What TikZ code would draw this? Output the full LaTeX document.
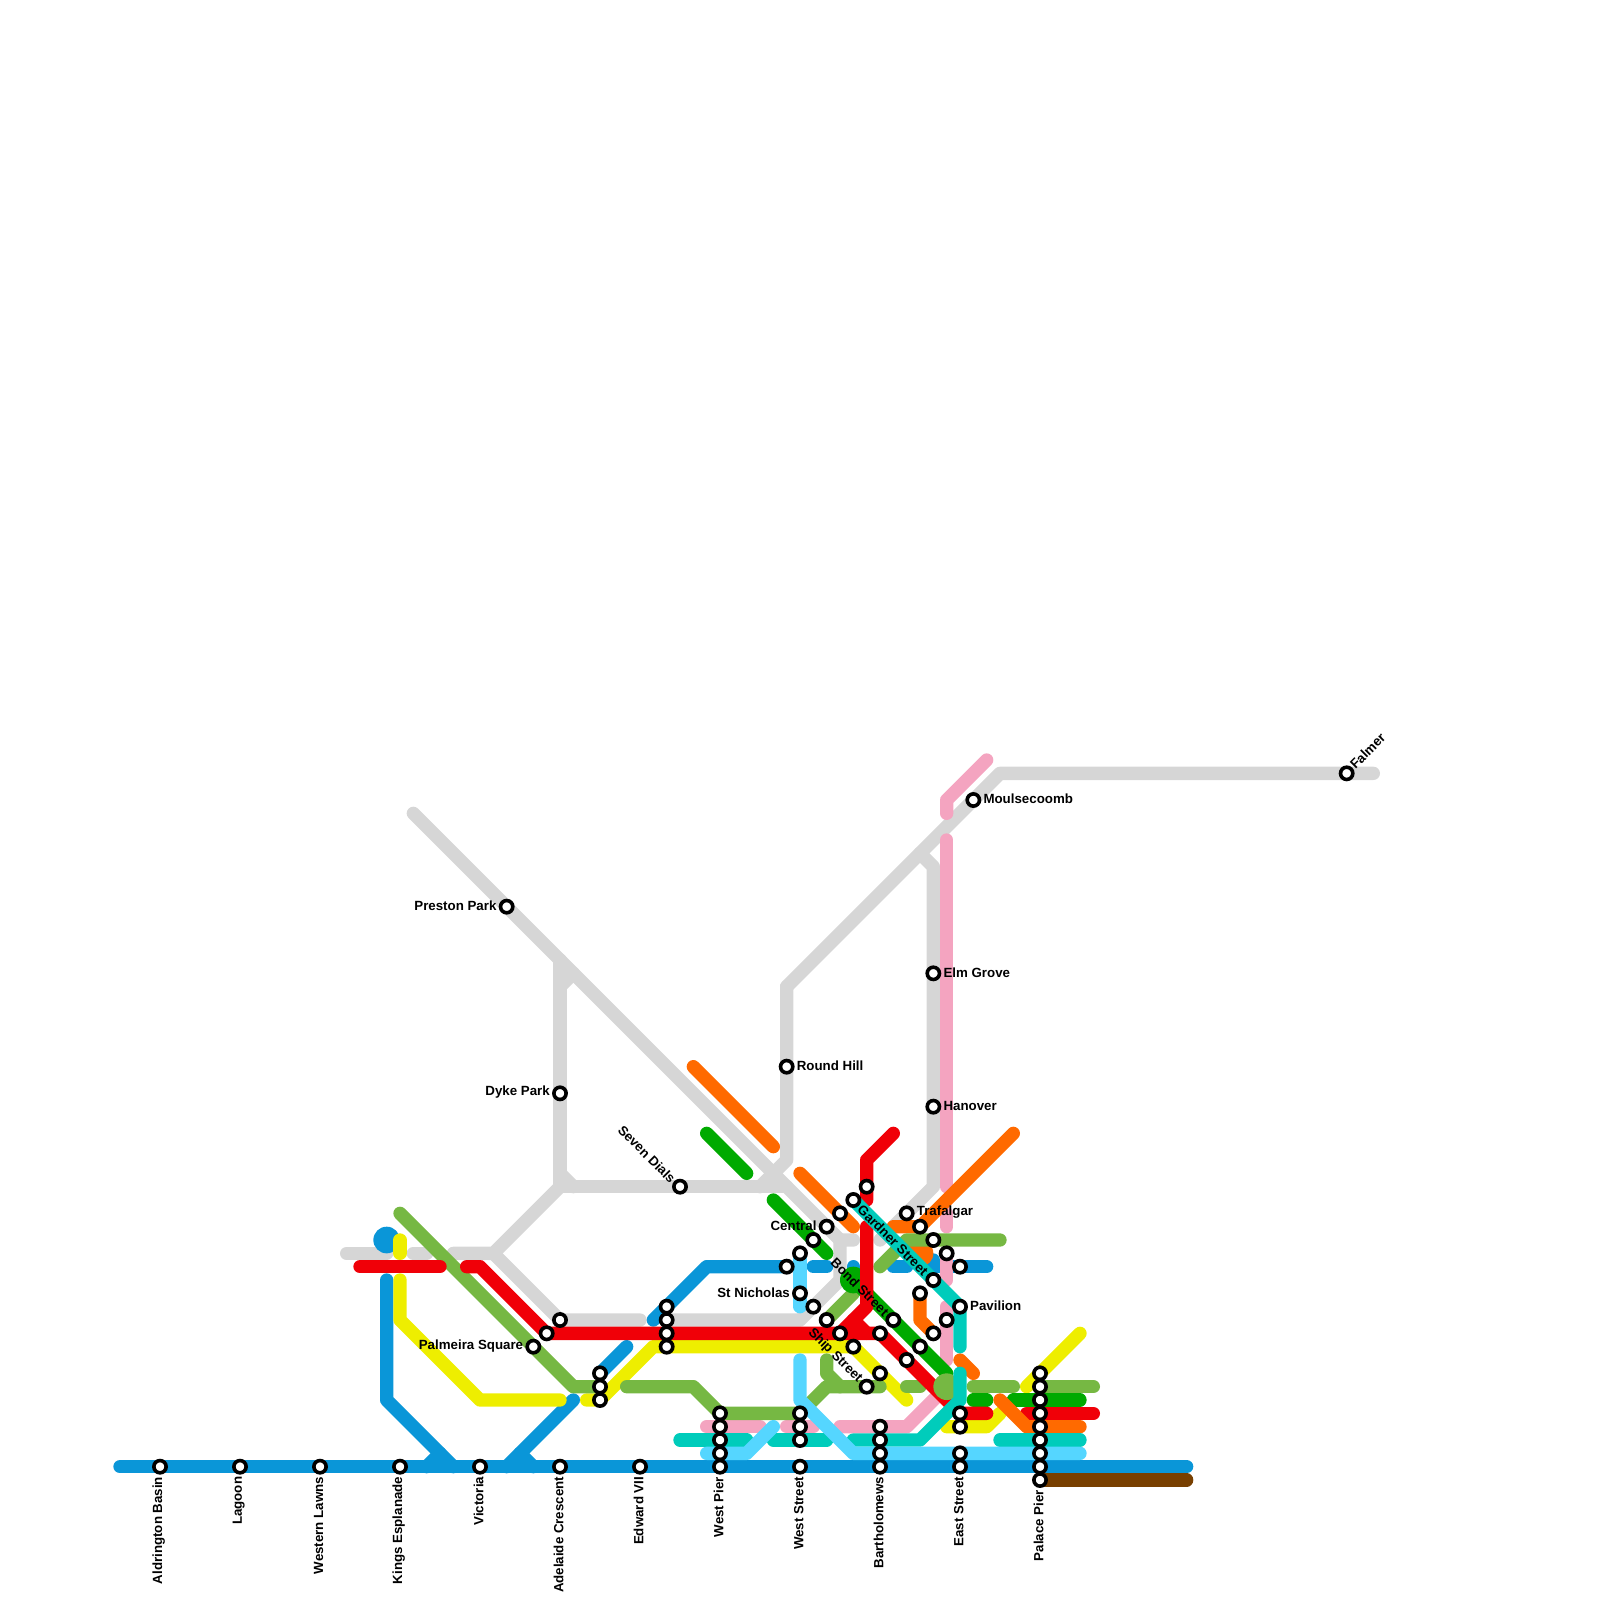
\documentclass[tikz,border=0pt]{standalone}
\usepackage{fontspec}
\setmainfont{Liberation Sans}
\definecolor{mblue}{RGB}{10,150,216}
\definecolor{mlight}{RGB}{85,214,255}
\definecolor{mteal}{RGB}{0,204,187}
\definecolor{mpink}{RGB}{244,164,192}
\definecolor{morange}{RGB}{255,106,0}
\definecolor{mdark}{RGB}{0,170,0}
\definecolor{mgreen}{RGB}{118,184,67}
\definecolor{mred}{RGB}{240,0,8}
\definecolor{myellow}{RGB}{238,238,0}
\definecolor{mgray}{RGB}{214,214,214}
\definecolor{mbrown}{RGB}{120,63,0}
\tikzset{
  metro/.style={line width=0.5cm,line cap=round,line join=round,draw=#1},
  blob/.style={fill=#1,draw=none},
  stn/.style={circle,draw=black,fill=white,line width=0.135cm,minimum size=0.46cm,inner sep=0pt},
  lab/.style={inner sep=0pt,font=\bfseries\fontsize{14.2pt}{14.2pt}\selectfont,text=black},
}
\begin{document}
\begin{tikzpicture}[x=0.5cm,y=-0.5cm]
\useasboundingbox (0,0) rectangle (120,120);
% gray
\draw[metro=mgray] (31,61) -- (63,93);
\draw[metro=mgray] (42,72) -- (42,89) -- (59,89);
\draw[metro=mgray] (42,74) -- (43,73);
\draw[metro=mgray] (42,88) -- (43,89);
\draw[metro=mgray] (42,89) -- (37,94) -- (34,94);
\draw[metro=mgray] (37,94) -- (42,99) -- (48,99);
\draw[metro=mgray] (31,94) -- (32,94);
\draw[metro=mgray] (26,94) -- (29,94);
\draw[metro=mgray] (50,99) -- (60,99) -- (63,96) -- (63,93) -- (64,93);
\draw[metro=mgray] (59,74) -- (59,87) -- (57,89);
\draw[metro=mgray] (59,74) -- (75,58) -- (103,58);
\draw[metro=mgray] (69,64) -- (70,65) -- (70,89) -- (66,93);
% brown
\draw[metro=mbrown] (78,111) -- (89,111);
% blue
\draw[metro=mblue] (9,110) -- (89,110);
\draw[metro=mblue] (29,96) -- (29,105) -- (34,110);
\draw[metro=mblue] (33,109) -- (32,110);
\draw[metro=mblue] (38,110) -- (43,105);
\draw[metro=mblue] (39,109) -- (40,110);
\fill[blob=mblue] (29,93) circle (0.5cm);
\draw[metro=mblue] (45,103) -- (47,101);
\draw[metro=mblue] (49,99) -- (53,95) -- (59,95);
\draw[metro=mblue] (61,95) -- (62,95);
\draw[metro=mblue] (67,95) -- (68,95);
\draw[metro=mblue] (64,95) -- (64,96);
\draw[metro=mblue] (70,94.5) -- (70,95) -- (74,95);
\fill[blob=morange] (69,94) circle (0.5cm);
% pink
\draw[metro=mpink] (71,61) -- (71,60) -- (74,57);
\draw[metro=mpink] (71,63) -- (71,89);
\draw[metro=mpink] (71,91) -- (71,92);
\draw[metro=mpink] (71,94) -- (71,96);
\draw[metro=mpink] (71,98) -- (71,102);
\draw[metro=mpink] (63,107) -- (68,107) -- (71,104);
\draw[metro=mpink] (53,107) -- (57,107);
\draw[metro=mpink] (59,107) -- (61,107);
% yellow
\draw[metro=myellow] (30,93) -- (30,94);
\draw[metro=myellow] (30,96) -- (30,99) -- (36,105) -- (42,105);
\draw[metro=myellow] (44,105) -- (45,105) -- (49,101) -- (64,101) -- (68,105);
\draw[metro=myellow] (71,107) -- (74,107) -- (75,106);
\draw[metro=myellow] (77,104) -- (81,100);
% orange
\draw[metro=morange] (52,80) -- (58,86);
\draw[metro=morange] (60,88) -- (64,92);
\draw[metro=morange] (76,85) -- (69,92) -- (67,92);
\draw[metro=morange] (69,97) -- (69,99) -- (70,100);
\draw[metro=morange] (72,102) -- (73,103);
% light green
\draw[metro=mgreen] (30,91) -- (43,104) -- (45,104);
\draw[metro=mgreen] (47,104) -- (52,104) -- (54,106) -- (60,106) -- (62,104) -- (66,104);
\draw[metro=mgreen] (62,102) -- (62,103) -- (63,104);
\draw[metro=mgreen] (68,104) -- (69,104);
\draw[metro=mgreen] (73,104) -- (76,104);
\draw[metro=mgreen] (78,104) -- (82,104);
\draw[metro=mgreen] (62,99) -- (64,97);
\draw[metro=mgreen] (66,95) -- (68,93) -- (75,93);
% dark green
\draw[metro=mdark] (53,85) -- (56,88);
\draw[metro=mdark] (58,90) -- (62,94);
\fill[blob=mdark] (64,96) circle (0.5cm);
\draw[metro=mdark] (64,96) -- (71,103);
\draw[metro=mdark] (73,105) -- (74,105);
\draw[metro=mdark] (76,105) -- (81,105);
% red
\draw[metro=mred] (27,95) -- (33,95);
\draw[metro=mred] (35,95) -- (36,95) -- (41,100) -- (66,100) -- (71,105) -- (72,106) -- (74,106);
\draw[metro=mred] (65,92) -- (65,98) -- (63,100);
\draw[metro=mred] (64,99) -- (65,100);
\draw[metro=mred] (77,106) -- (82,106);
\draw[metro=mred] (67,85) -- (65,87) -- (65,90);
\draw[metro=morange] (75,105) -- (77,107) -- (81,107);
\fill[blob=mgreen] (71,104) circle (0.5cm);
% teal
\draw[metro=mteal] (51,108) -- (56,108);
\draw[metro=mteal] (58,108) -- (62,108);
\draw[metro=mteal] (64,108) -- (69,108) -- (72,105) -- (72,103);
\draw[metro=mteal] (75,108) -- (81,108);
\draw[metro=mteal] (64,90) -- (72,98) -- (72,101);
% light blue
\draw[metro=mlight] (53,109) -- (56,109) -- (58,107);
\draw[metro=mlight] (60,102) -- (60,105) -- (64,109) -- (81,109);
\draw[metro=mlight] (60,94) -- (60,98);
% stations
\foreach \x/\y in {12/110,18/110,24/110,30/110,36/110,42/110,48/110,
 54/106,54/107,54/108,54/109,54/110,60/106,60/107,60/108,60/110,
 66/107,66/108,66/109,66/110,72/106,72/107,72/109,72/110,
 78/103,78/104,78/105,78/106,78/107,78/108,78/109,78/110,78/111,
 51/89,65/89,64/90,63/91,62/92,61/93,60/94,59/95,60/97,61/98,62/99,63/100,64/101,
 65/104,66/103,66/100,67/99,68/102,69/101,70/100,71/99,72/98,69/97,70/96,72/95,71/94,70/93,69/92,68/91,
 70/83,70/73,59/80,73/60,101/58,38/68,42/82,40/101,41/100,42/99,45/103,45/104,45/105,
 50/98,50/99,50/100,50/101}
  \node[stn] (s\x-\y) at (\x,\y) {};
% labels
\foreach \n/\x/\t in {a/11.9/Aldrington Basin,b/17.9/Lagoon,c/23.9/Western Lawns,d/29.9/Kings Esplanade,e/35.9/Victoria,f/41.9/Adelaide Crescent,g/47.9/Edward VII,h/53.9/West Pier,i/59.9/West Street,j/65.9/Bartholomews,k/71.9/East Street}
  \node[lab,rotate=90,anchor=east] (l\n) at (\x,110.75) {\t};
\node[lab,rotate=90,anchor=east] (ll) at (77.9,111.75) {Palace Pier};
\node[lab,anchor=west] (r1) at (70.75,82.93) {Hanover};
\node[lab,anchor=west] (r2) at (70.75,72.93) {Elm Grove};
\node[lab,anchor=west] (r3) at (59.75,79.93) {Round Hill};
\node[lab,anchor=west] (r4) at (73.75,59.93) {Moulsecoomb};
\node[lab,anchor=west] (r5) at (68.75,90.93) {Trafalgar};
\node[lab,anchor=west] (r6) at (72.75,97.93) {Pavilion};
\node[lab,anchor=east] (q1) at (37.25,67.93) {Preston Park};
\node[lab,anchor=east] (q2) at (41.25,81.93) {Dyke Park};
\node[lab,anchor=east] (q3) at (39.25,100.93) {Palmeira Square};
\node[lab,anchor=east] (q4) at (61.25,91.93) {Central};
\node[lab,anchor=east] (q5) at (59.25,96.93) {St Nicholas};
\node[lab,rotate=45,anchor=west] (d1) at (101.4,57.5) {Falmer};
\node[lab,rotate=-45,anchor=east] (d2) at (50.5,88.55) {Seven Dials};
\node[lab,rotate=-45,anchor=east] (d3) at (64.5,103.55) {Ship Street};
\node[lab,rotate=-45,anchor=east] (d4) at (69.45,95.5) {Gardner Street};
\node[lab,rotate=-45,anchor=east] (d5) at (66.5,98.55) {Bond Street};
\end{tikzpicture}
\end{document}
